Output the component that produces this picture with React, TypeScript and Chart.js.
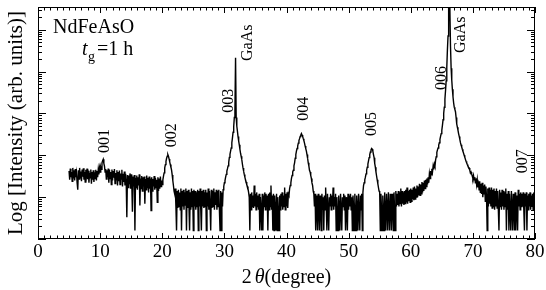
import React, { useEffect, useRef } from "react";
import { Chart, registerables } from "chart.js";

Chart.register(...registerables);

// XRD scan: 2θ from 5° to 80°, step 0.1° (one row = one degree)
const SCAN_START = 5;
const SCAN_STEP = 0.1;
const intensity: number[] = [
  42, 26, 48, 30, 40, 24, 50, 28, 44, 25, // 5
  47, 30, 38, 22, 15, 44, 27, 50, 29, 41, // 6
  24, 46, 31, 49, 26, 40, 23, 45, 33, 48, // 7
  27, 43, 22, 38, 29, 46, 21, 40, 26, 44, // 8
  23, 39, 28, 45, 25, 42, 30, 46, 35, 50, // 9
  40, 52, 46, 66, 74, 80, 64, 55, 40, 47, // 10
  27, 44, 30, 48, 22, 45, 28, 40, 20, 46, // 11
  25, 42, 29, 47, 21, 38, 26, 44, 19, 40, // 12
  24, 43, 20, 37, 27, 45, 18, 36, 23, 41, // 13
  19, 36, 22, 3.3, 34, 17, 33, 21, 37, 16, // 14
  35, 20, 4.5, 31, 18, 34, 1.6, 29, 17, 33, // 15
  15, 30, 19, 35, 6.3, 28, 16, 32, 14, 30, // 16
  18, 31, 7, 27, 15, 33, 17, 29, 13, 31, // 17
  16, 28, 4.8, 30, 14, 27, 18, 32, 15, 29, // 18
  17, 26, 7.5, 30, 14, 28, 16, 31, 18, 25, // 19
  20, 26, 32, 38, 50, 60, 72, 85, 95, 104, // 20
  95, 82, 70, 60, 52, 44, 34, 25, 19, 14, // 21
  12, 16, 6, 1.6, 14, 5.5, 15, 6, 13, 5, // 22
  16, 1.6, 14, 6, 15, 5, 13, 6.5, 16, 1.6, // 23
  14, 5.5, 15, 6, 1.6, 13, 5, 16, 6, 14, // 24
  1.6, 15, 6, 14, 5, 13, 6, 15, 1.6, 14, // 25
  6, 16, 5, 1.6, 14, 6, 15, 5.5, 13, 6, // 26
  15, 1.6, 13, 6, 16, 5, 14, 6, 1.6, 15, // 27
  5.5, 14, 6, 16, 5, 13, 6.5, 15, 5, 14, // 28
  6, 15, 5, 1.6, 14, 1.6, 13, 6, 15, 18, // 29
  22, 25, 30, 35, 42, 48, 56, 68, 89, 105, // 30
  126, 150, 200, 260, 355, 480, 800, 1200, 21400, 800, // 31
  500, 380, 280, 220, 178, 140, 112, 95, 80, 62, // 32
  50, 42, 35, 30, 26, 23, 20, 18, 16, 13, // 33
  10, 1.6, 12, 5, 13, 6, 11, 5.5, 19, 6, // 34
  12, 5, 13, 6, 11, 5, 12, 1.6, 10, 5, // 35
  1.6, 12, 1.6, 11, 6, 13, 5, 12, 6, 11, // 36
  1.6, 12, 5, 13, 6, 19, 5, 11, 1.6, 12, // 37
  1.6, 11, 5, 1.6, 12, 1.6, 10, 5, 1.6, 11, // 38
  5, 12, 6, 13, 5, 11, 6, 17, 5, 12, // 39
  6, 13, 5.5, 12, 11, 16, 19, 22, 28, 33, // 40
  40, 44, 56, 66, 85, 104, 126, 145, 166, 195, // 41
  224, 250, 282, 305, 331, 305, 282, 250, 224, 195, // 42
  166, 145, 126, 104, 85, 66, 56, 44, 40, 33, // 43
  28, 22, 19, 14, 12, 6, 12, 1.6, 11, 5, // 44
  1.6, 12, 5, 1.6, 11, 6, 1.6, 12, 5, 10, // 45
  1.6, 11, 5, 17, 6, 1.6, 12, 5, 1.6, 10, // 46
  6, 12, 5, 11, 6, 17, 5, 10, 6, 12, // 47
  1.6, 10, 5, 1.6, 11, 6, 1.6, 12, 5, 1.6, // 48
  10, 6, 12, 5, 11, 1.6, 10, 5, 1.6, 12, // 49
  5, 11, 6, 12, 5, 10, 1.6, 11, 6, 1.6, // 50
  12, 5, 1.6, 11, 6, 1.6, 12, 5, 1.6, 11, // 51
  5, 12, 1.6, 13, 19, 22, 26, 30, 36, 44, // 52
  52, 62, 74, 88, 104, 120, 135, 145, 140, 126, // 53
  104, 88, 64, 52, 40, 32, 26, 21, 17, 14, // 54
  13, 1.6, 12, 5, 1.6, 11, 6, 1.6, 13, 5, // 55
  1.6, 12, 6, 1.6, 13, 5, 1.6, 12, 5.5, 1.6, // 56
  12, 6, 1.6, 13, 5, 1.6, 14, 6, 12, 6.5, // 57
  14, 6, 13, 7, 16, 6, 14, 7, 13, 6.5, // 58
  14, 7, 15, 7.5, 17, 7, 14, 8, 15, 7.5, // 59
  16, 8, 15, 9, 17, 8.5, 18, 9, 16, 10, // 60
  19, 10, 18, 11, 21, 11, 20, 12, 23, 13, // 61
  22, 14, 25, 16, 26, 18, 28, 20, 30, 22, // 62
  36, 28, 42, 34, 48, 40, 55, 46, 62, 55, // 63
  78, 92, 118, 135, 150, 175, 200, 240, 282, 330, // 64
  398, 520, 708, 1000, 1413, 2200, 3548, 6000, 12600, 33000, // 65
  70800, 600000, 1000000, 300000, 39800, 12000, 6310, 3800, 2512, 1800, // 66
  1413, 1250, 1100, 800, 562, 470, 398, 330, 282, 240, // 67
  200, 178, 158, 140, 126, 112, 100, 90, 80, 72, // 68
  66, 60, 55, 52, 50, 44, 38, 40, 36, 32, // 69
  28, 33, 26, 30, 22, 28, 20, 26, 17, 24, // 70
  15, 24, 13, 21, 12, 22, 10, 19, 12, 20, // 71
  8, 18, 10, 1.6, 16, 6, 17, 7, 15, 6, // 72
  17, 5.5, 15, 6, 16, 5, 14, 6, 16, 5.5, // 73
  14, 5, 1.6, 15, 6, 13, 5, 15, 6, 14, // 74
  5, 13, 6, 16, 1.6, 12, 5, 14, 1.6, 12, // 75
  5, 1.6, 14, 6, 1.6, 12, 5, 1.6, 13, 1.6, // 76
  11, 5, 1.6, 15, 6, 12, 5, 13, 6, 12, // 77
  6, 13, 5, 1.6, 12, 6, 13, 1.6, 11, 5, // 78
  12, 6, 13, 5, 11, 6, 12, 5, 13, 6, // 79
  12, // 80
];

const X_MIN = 0;
const X_MAX = 80;
const xTickLabels = ["0", "10", "20", "30", "40", "50", "60", "70", "80"];
const Y_MIN = 1;
const Y_MAX = 3.5e5;

const peakLabels = ["001", "002", "003", "GaAs", "004", "005", "006", "GaAs", "007"];
const peakLabelAngle = [10.56, 21.37, 30.56, 33.63, 42.66, 53.63, 64.9, 67.82, 77.82];
const peakLabelLevel = [220, 300, 2000, 49000, 1290, 560, 7080, 76000, 72];

const SERIF = '"Liberation Serif", "Times New Roman", serif';

const decorPlugin = {
  id: "decor",
  beforeDraw(chart: any) {
    const ctx = chart.ctx;
    ctx.save();
    ctx.fillStyle = "#fff";
    ctx.fillRect(0, 0, chart.width, chart.height);
    ctx.restore();
  },
  afterDraw(chart: any) {
    const ctx: CanvasRenderingContext2D = chart.ctx;
    const a = chart.chartArea;
    const xs = chart.scales.x;
    const ys = chart.scales.y;
    ctx.save();
    ctx.strokeStyle = "#000";
    ctx.fillStyle = "#000";
    ctx.lineWidth = 1;
    // frame
    ctx.strokeRect(a.left + 0.5, a.top + 0.5, a.right - a.left - 1, a.bottom - a.top - 1);
    // x ticks (bottom & top, inward)
    ctx.beginPath();
    for (let d = X_MIN; d <= X_MAX; d += 1) {
      const px = Math.round(xs.getPixelForValue(d)) + 0.5;
      const len = d % 10 === 0 ? 6 : 3.5;
      ctx.moveTo(px, a.bottom);
      ctx.lineTo(px, a.bottom - len);
      ctx.moveTo(px, a.top);
      ctx.lineTo(px, a.top + len);
    }
    // y ticks (left & right, inward)
    for (let e = 0; e <= 6; e++) {
      for (let m = 1; m <= 9; m++) {
        const v = m * Math.pow(10, e);
        if (v < Y_MIN || v > Y_MAX) continue;
        const py = Math.round(ys.getPixelForValue(v)) + 0.5;
        const len = m === 1 ? 8 : 4;
        ctx.moveTo(a.left, py);
        ctx.lineTo(a.left + len, py);
        ctx.moveTo(a.right, py);
        ctx.lineTo(a.right - len, py);
      }
    }
    ctx.stroke();

    // x tick labels
    ctx.font = `19px ${SERIF}`;
    ctx.textAlign = "center";
    ctx.textBaseline = "alphabetic";
    xTickLabels.forEach((t) => {
      const px = xs.getPixelForValue(Number(t));
      ctx.fillText(t, px, a.bottom + 18);
    });

    // x title: 2θ(degree)
    const cx = (a.left + a.right) / 2;
    const ty = a.bottom + 44;
    ctx.textAlign = "left";
    ctx.font = `20px ${SERIF}`;
    const w2 = ctx.measureText("2").width;
    const wDeg = ctx.measureText("(degree)").width;
    ctx.font = `italic 20px ${SERIF}`;
    const wTh = ctx.measureText("θ").width;
    const gap = 3;
    let x0 = cx - (w2 + gap + wTh + wDeg) / 2;
    ctx.font = `20px ${SERIF}`;
    ctx.fillText("2", x0, ty);
    x0 += w2 + gap;
    ctx.font = `italic 20px ${SERIF}`;
    ctx.fillText("θ", x0, ty);
    x0 += wTh;
    ctx.font = `20px ${SERIF}`;
    ctx.fillText("(degree)", x0, ty);

    // y title
    ctx.save();
    ctx.translate(22, (a.top + a.bottom) / 2);
    ctx.rotate(-Math.PI / 2);
    ctx.textAlign = "center";
    ctx.font = `21px ${SERIF}`;
    ctx.fillText("Log [Intensity (arb. units)]", 0, 0);
    ctx.restore();

    // sample label
    ctx.textAlign = "left";
    ctx.font = `20px ${SERIF}`;
    ctx.fillText("NdFeAsO", a.left + 15, a.top + 26);
    let tx = a.left + 44;
    const tb = a.top + 48;
    ctx.font = `italic 20px ${SERIF}`;
    ctx.fillText("t", tx, tb);
    tx += ctx.measureText("t").width + 0.5;
    ctx.font = `14px ${SERIF}`;
    ctx.fillText("g", tx, tb + 6);
    tx += ctx.measureText("g").width + 2;
    ctx.font = `20px ${SERIF}`;
    ctx.fillText("=1 h", tx, tb);

    // peak labels (rotated)
    const fs = 16;
    ctx.font = `${fs}px ${SERIF}`;
    ctx.textAlign = "center";
    peakLabels.forEach((lab, i) => {
      const px = xs.getPixelForValue(peakLabelAngle[i]);
      const py = ys.getPixelForValue(peakLabelLevel[i]);
      ctx.save();
      ctx.translate(px + 0.33 * fs, py);
      ctx.rotate(-Math.PI / 2);
      ctx.fillText(lab, 0, 0);
      ctx.restore();
    });
    ctx.restore();
  },
};

export default function App() {
  const ref = useRef<HTMLCanvasElement | null>(null);
  useEffect(() => {
    if (!ref.current) return;
    const points = intensity.map((v, i) => ({
      x: Math.round((SCAN_START + i * SCAN_STEP) * 100) / 100,
      y: v,
    }));
    const chart = new Chart(ref.current, {
      type: "line",
      data: {
        datasets: [
          {
            data: points,
            borderColor: "#000",
            borderWidth: 1.4,
            pointRadius: 0,
            tension: 0,
            fill: false,
          },
        ],
      },
      options: {
        animation: false,
        responsive: false,
        devicePixelRatio: 1,
        parsing: false as any,
        layout: { padding: { left: 38, right: 11, top: 7, bottom: 51 } },
        plugins: { legend: { display: false }, tooltip: { enabled: false } },
        scales: {
          x: { type: "linear", min: X_MIN, max: X_MAX, display: false },
          y: { type: "logarithmic", min: Y_MIN, max: Y_MAX, display: false },
        },
      },
      plugins: [decorPlugin],
    });
    return () => chart.destroy();
  }, []);
  return (
    <div style={{ position: "absolute", left: 0, top: 0, width: 546, height: 290, background: "#fff" }}>
      <canvas ref={ref} width={546} height={290} />
    </div>
  );
}
